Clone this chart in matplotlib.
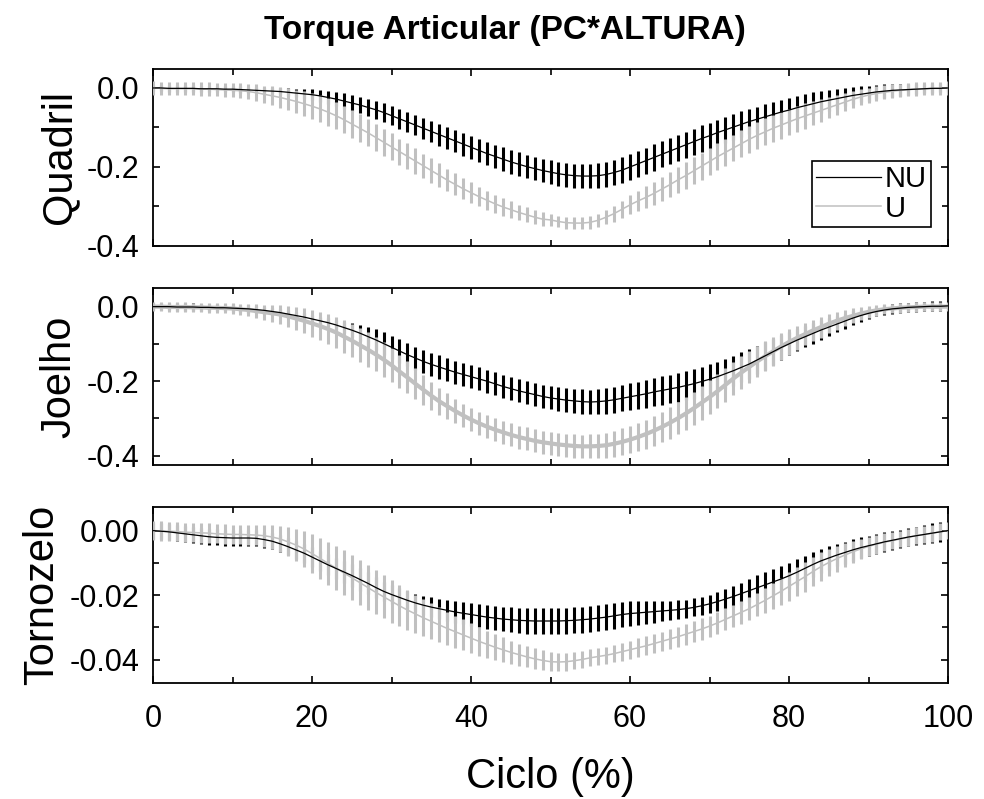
import numpy as np
import matplotlib
matplotlib.use('Agg')
import matplotlib.pyplot as plt
from matplotlib.ticker import MultipleLocator, FormatStrFormatter

plt.rcParams['font.family'] = 'Liberation Sans'
plt.rcParams['axes.unicode_minus'] = False

# Ciclo da marcha (%) - um ponto a cada 1 %
ciclo = np.arange(0, 101)

# Quadril - media e desvio padrao (NU = nao usuarios, U = usuarios)
quadril_nu = [
    0.000, 0.000, -0.001, -0.001, -0.001, -0.001, -0.002, -0.002, -0.002, -0.003,
    -0.003, -0.004, -0.005, -0.006, -0.007, -0.008, -0.009, -0.011, -0.013, -0.015,
    -0.017, -0.020, -0.024, -0.028, -0.033, -0.038, -0.043, -0.049, -0.055, -0.062,
    -0.070, -0.078, -0.086, -0.094, -0.102, -0.110, -0.118, -0.126, -0.134, -0.142,
    -0.150, -0.158, -0.166, -0.173, -0.180, -0.187, -0.193, -0.199, -0.204, -0.209,
    -0.213, -0.217, -0.220, -0.222, -0.223, -0.223, -0.222, -0.219, -0.214, -0.208,
    -0.200, -0.192, -0.184, -0.176, -0.168, -0.160, -0.152, -0.144, -0.136, -0.128,
    -0.121, -0.113, -0.106, -0.099, -0.092, -0.085, -0.079, -0.073, -0.067, -0.061,
    -0.056, -0.050, -0.045, -0.040, -0.035, -0.031, -0.027, -0.023, -0.019, -0.016,
    -0.013, -0.010, -0.008, -0.006, -0.005, -0.004, -0.003, -0.002, -0.001, -0.001,
    0.000]
quadril_nu_dp = [
    0.008, 0.008, 0.008, 0.008, 0.008, 0.008, 0.008, 0.008, 0.008, 0.008,
    0.008, 0.008, 0.008, 0.008, 0.008, 0.008, 0.009, 0.010, 0.011, 0.012,
    0.014, 0.015, 0.016, 0.018, 0.019, 0.020, 0.021, 0.022, 0.023, 0.024,
    0.025, 0.025, 0.026, 0.026, 0.027, 0.027, 0.028, 0.028, 0.028, 0.029,
    0.029, 0.029, 0.029, 0.029, 0.030, 0.030, 0.030, 0.030, 0.030, 0.030,
    0.030, 0.030, 0.030, 0.030, 0.030, 0.031, 0.031, 0.032, 0.032, 0.033,
    0.033, 0.033, 0.033, 0.033, 0.033, 0.033, 0.033, 0.033, 0.033, 0.033,
    0.033, 0.033, 0.033, 0.033, 0.033, 0.032, 0.032, 0.032, 0.032, 0.031,
    0.031, 0.030, 0.030, 0.029, 0.028, 0.027, 0.025, 0.023, 0.021, 0.020,
    0.019, 0.018, 0.017, 0.016, 0.015, 0.014, 0.013, 0.012, 0.011, 0.010,
    0.010]
quadril_u = [
    0.000, -0.001, -0.002, -0.002, -0.002, -0.002, -0.003, -0.003, -0.004, -0.005,
    -0.006, -0.007, -0.009, -0.012, -0.016, -0.020, -0.024, -0.029, -0.034, -0.040,
    -0.046, -0.053, -0.061, -0.070, -0.080, -0.091, -0.102, -0.113, -0.125, -0.137,
    -0.149, -0.161, -0.173, -0.185, -0.197, -0.209, -0.221, -0.233, -0.244, -0.255,
    -0.265, -0.275, -0.284, -0.293, -0.301, -0.308, -0.315, -0.321, -0.327, -0.332,
    -0.334, -0.338, -0.341, -0.342, -0.342, -0.340, -0.335, -0.327, -0.318, -0.307,
    -0.296, -0.286, -0.277, -0.267, -0.256, -0.245, -0.233, -0.222, -0.210, -0.198,
    -0.186, -0.174, -0.163, -0.152, -0.141, -0.130, -0.120, -0.111, -0.102, -0.094,
    -0.086, -0.078, -0.071, -0.064, -0.057, -0.050, -0.043, -0.036, -0.029, -0.023,
    -0.018, -0.014, -0.011, -0.008, -0.006, -0.004, -0.003, -0.002, -0.001, -0.001,
    0.000]
quadril_u_dp = [
    0.017, 0.017, 0.017, 0.017, 0.017, 0.017, 0.017, 0.017, 0.017, 0.017,
    0.018, 0.019, 0.020, 0.021, 0.022, 0.024, 0.026, 0.028, 0.030, 0.032,
    0.033, 0.034, 0.035, 0.035, 0.035, 0.035, 0.035, 0.035, 0.034, 0.034,
    0.034, 0.033, 0.033, 0.032, 0.031, 0.031, 0.030, 0.029, 0.028, 0.027,
    0.026, 0.025, 0.024, 0.023, 0.022, 0.021, 0.020, 0.019, 0.018, 0.017,
    0.016, 0.015, 0.015, 0.015, 0.015, 0.016, 0.017, 0.018, 0.020, 0.022,
    0.024, 0.026, 0.028, 0.030, 0.031, 0.032, 0.033, 0.034, 0.034, 0.034,
    0.034, 0.034, 0.034, 0.034, 0.034, 0.034, 0.034, 0.034, 0.034, 0.034,
    0.034, 0.033, 0.032, 0.031, 0.029, 0.027, 0.025, 0.023, 0.021, 0.020,
    0.019, 0.018, 0.018, 0.017, 0.017, 0.017, 0.017, 0.017, 0.017, 0.017,
    0.017]

# Joelho
joelho_nu = [
    0.000, 0.000, 0.000, -0.001, -0.001, -0.001, -0.002, -0.002, -0.003, -0.003,
    -0.004, -0.005, -0.006, -0.008, -0.010, -0.013, -0.016, -0.020, -0.024, -0.028,
    -0.033, -0.038, -0.043, -0.049, -0.056, -0.063, -0.071, -0.080, -0.089, -0.099,
    -0.109, -0.119, -0.129, -0.138, -0.147, -0.155, -0.162, -0.169, -0.176, -0.182,
    -0.188, -0.194, -0.200, -0.207, -0.214, -0.220, -0.226, -0.231, -0.236, -0.241,
    -0.245, -0.248, -0.251, -0.253, -0.255, -0.256, -0.255, -0.253, -0.250, -0.246,
    -0.242, -0.238, -0.234, -0.229, -0.225, -0.221, -0.217, -0.212, -0.207, -0.201,
    -0.195, -0.188, -0.180, -0.172, -0.163, -0.154, -0.143, -0.132, -0.121, -0.110,
    -0.100, -0.090, -0.081, -0.072, -0.063, -0.055, -0.047, -0.039, -0.031, -0.024,
    -0.018, -0.013, -0.009, -0.006, -0.004, -0.002, -0.001, 0.000, 0.001, 0.001,
    0.002]
joelho_nu_dp = [
    0.010, 0.010, 0.010, 0.010, 0.010, 0.010, 0.010, 0.010, 0.010, 0.010,
    0.010, 0.010, 0.010, 0.010, 0.010, 0.010, 0.010, 0.010, 0.010, 0.010,
    0.010, 0.011, 0.012, 0.014, 0.016, 0.019, 0.022, 0.025, 0.028, 0.030,
    0.031, 0.031, 0.031, 0.031, 0.031, 0.031, 0.031, 0.031, 0.031, 0.031,
    0.031, 0.031, 0.031, 0.031, 0.031, 0.031, 0.031, 0.031, 0.031, 0.031,
    0.031, 0.031, 0.032, 0.032, 0.033, 0.033, 0.034, 0.034, 0.035, 0.035,
    0.036, 0.036, 0.037, 0.037, 0.038, 0.038, 0.039, 0.039, 0.040, 0.040,
    0.040, 0.040, 0.040, 0.040, 0.040, 0.039, 0.038, 0.037, 0.035, 0.033,
    0.031, 0.029, 0.028, 0.027, 0.026, 0.024, 0.022, 0.020, 0.018, 0.016,
    0.014, 0.013, 0.013, 0.013, 0.013, 0.013, 0.013, 0.013, 0.013, 0.013,
    0.013]
joelho_u = [
    0.000, 0.000, -0.001, -0.001, -0.001, -0.002, -0.002, -0.003, -0.003, -0.004,
    -0.005, -0.007, -0.009, -0.012, -0.015, -0.018, -0.021, -0.026, -0.032, -0.038,
    -0.045, -0.052, -0.060, -0.069, -0.080, -0.091, -0.103, -0.115, -0.128, -0.142,
    -0.157, -0.174, -0.190, -0.207, -0.223, -0.239, -0.254, -0.267, -0.280, -0.292,
    -0.303, -0.313, -0.322, -0.330, -0.337, -0.344, -0.350, -0.355, -0.360, -0.364,
    -0.367, -0.370, -0.372, -0.374, -0.375, -0.375, -0.374, -0.372, -0.368, -0.363,
    -0.357, -0.350, -0.342, -0.333, -0.323, -0.312, -0.300, -0.287, -0.273, -0.258,
    -0.243, -0.227, -0.210, -0.193, -0.177, -0.162, -0.147, -0.133, -0.120, -0.107,
    -0.095, -0.084, -0.074, -0.064, -0.055, -0.046, -0.038, -0.031, -0.025, -0.019,
    -0.014, -0.010, -0.007, -0.005, -0.003, -0.002, -0.001, 0.000, 0.000, 0.000,
    0.000]
joelho_u_dp = [
    0.013, 0.013, 0.013, 0.013, 0.013, 0.013, 0.013, 0.013, 0.013, 0.013,
    0.014, 0.015, 0.016, 0.018, 0.020, 0.022, 0.025, 0.028, 0.031, 0.034,
    0.036, 0.038, 0.040, 0.042, 0.044, 0.045, 0.046, 0.046, 0.046, 0.046,
    0.045, 0.044, 0.043, 0.042, 0.040, 0.038, 0.036, 0.034, 0.033, 0.032,
    0.031, 0.031, 0.031, 0.031, 0.031, 0.031, 0.031, 0.031, 0.031, 0.031,
    0.031, 0.031, 0.031, 0.031, 0.031, 0.032, 0.033, 0.034, 0.035, 0.036,
    0.037, 0.038, 0.039, 0.040, 0.041, 0.042, 0.043, 0.044, 0.045, 0.045,
    0.045, 0.045, 0.045, 0.045, 0.045, 0.044, 0.042, 0.040, 0.038, 0.036,
    0.034, 0.032, 0.030, 0.029, 0.028, 0.026, 0.024, 0.022, 0.020, 0.018,
    0.016, 0.015, 0.014, 0.013, 0.013, 0.013, 0.013, 0.013, 0.013, 0.013,
    0.013]

# Tornozelo
tornozelo_nu = [
    0.0000, -0.0002, -0.0004, -0.0007, -0.0010, -0.0013, -0.0016, -0.0019, -0.0021, -0.0022,
    -0.0023, -0.0023, -0.0023, -0.0024, -0.0028, -0.0033, -0.0041, -0.0050, -0.0060, -0.0070,
    -0.0082, -0.0094, -0.0106, -0.0117, -0.0128, -0.0139, -0.0151, -0.0163, -0.0176, -0.0188,
    -0.0198, -0.0207, -0.0216, -0.0224, -0.0231, -0.0237, -0.0242, -0.0247, -0.0252, -0.0256,
    -0.0260, -0.0264, -0.0268, -0.0271, -0.0274, -0.0276, -0.0278, -0.0279, -0.0280, -0.0280,
    -0.0280, -0.0280, -0.0279, -0.0278, -0.0276, -0.0274, -0.0271, -0.0268, -0.0264, -0.0260,
    -0.0257, -0.0255, -0.0253, -0.0251, -0.0249, -0.0247, -0.0245, -0.0242, -0.0238, -0.0233,
    -0.0227, -0.0220, -0.0212, -0.0204, -0.0195, -0.0186, -0.0177, -0.0168, -0.0159, -0.0150,
    -0.0140, -0.0129, -0.0117, -0.0105, -0.0094, -0.0085, -0.0076, -0.0068, -0.0060, -0.0053,
    -0.0047, -0.0041, -0.0035, -0.0030, -0.0025, -0.0020, -0.0016, -0.0012, -0.0008, -0.0004,
    0.0000]
tornozelo_nu_dp = [
    0.0025, 0.0025, 0.0025, 0.0025, 0.0025, 0.0025, 0.0025, 0.0025, 0.0025, 0.0025,
    0.0025, 0.0025, 0.0025, 0.0025, 0.0025, 0.0025, 0.0026, 0.0027, 0.0028, 0.0029,
    0.0030, 0.0031, 0.0032, 0.0033, 0.0034, 0.0035, 0.0035, 0.0034, 0.0032, 0.0030,
    0.0029, 0.0028, 0.0028, 0.0028, 0.0029, 0.0030, 0.0031, 0.0032, 0.0033, 0.0034,
    0.0035, 0.0036, 0.0037, 0.0038, 0.0038, 0.0039, 0.0039, 0.0040, 0.0040, 0.0040,
    0.0040, 0.0040, 0.0040, 0.0040, 0.0040, 0.0040, 0.0040, 0.0040, 0.0040, 0.0040,
    0.0039, 0.0038, 0.0036, 0.0034, 0.0032, 0.0030, 0.0029, 0.0028, 0.0028, 0.0028,
    0.0028, 0.0029, 0.0030, 0.0032, 0.0034, 0.0036, 0.0038, 0.0039, 0.0040, 0.0040,
    0.0040, 0.0040, 0.0039, 0.0038, 0.0037, 0.0036, 0.0035, 0.0034, 0.0033, 0.0032,
    0.0031, 0.0030, 0.0030, 0.0029, 0.0028, 0.0028, 0.0028, 0.0029, 0.0030, 0.0030,
    0.0030]
tornozelo_u = [
    0.0000, -0.0001, -0.0002, -0.0003, -0.0005, -0.0006, -0.0007, -0.0008, -0.0010, -0.0011,
    -0.0012, -0.0012, -0.0013, -0.0014, -0.0016, -0.0020, -0.0026, -0.0035, -0.0045, -0.0057,
    -0.0071, -0.0086, -0.0101, -0.0116, -0.0131, -0.0146, -0.0161, -0.0176, -0.0191, -0.0205,
    -0.0219, -0.0233, -0.0246, -0.0258, -0.0270, -0.0281, -0.0292, -0.0303, -0.0313, -0.0323,
    -0.0333, -0.0343, -0.0352, -0.0361, -0.0369, -0.0377, -0.0384, -0.0391, -0.0397, -0.0402,
    -0.0406, -0.0407, -0.0406, -0.0403, -0.0399, -0.0394, -0.0390, -0.0386, -0.0381, -0.0375,
    -0.0369, -0.0363, -0.0357, -0.0350, -0.0343, -0.0336, -0.0329, -0.0321, -0.0313, -0.0305,
    -0.0296, -0.0286, -0.0275, -0.0264, -0.0253, -0.0242, -0.0229, -0.0216, -0.0202, -0.0188,
    -0.0173, -0.0158, -0.0143, -0.0127, -0.0112, -0.0099, -0.0087, -0.0076, -0.0066, -0.0057,
    -0.0049, -0.0042, -0.0036, -0.0031, -0.0026, -0.0021, -0.0016, -0.0012, -0.0008, -0.0004,
    0.0000]
tornozelo_u_dp = [
    0.0030, 0.0030, 0.0030, 0.0030, 0.0030, 0.0030, 0.0030, 0.0030, 0.0030, 0.0030,
    0.0030, 0.0030, 0.0031, 0.0032, 0.0034, 0.0037, 0.0041, 0.0045, 0.0050, 0.0055,
    0.0060, 0.0064, 0.0067, 0.0069, 0.0070, 0.0070, 0.0070, 0.0069, 0.0068, 0.0067,
    0.0066, 0.0064, 0.0062, 0.0060, 0.0058, 0.0056, 0.0054, 0.0052, 0.0050, 0.0048,
    0.0046, 0.0044, 0.0042, 0.0040, 0.0038, 0.0036, 0.0034, 0.0033, 0.0032, 0.0031,
    0.0030, 0.0029, 0.0028, 0.0027, 0.0026, 0.0026, 0.0026, 0.0027, 0.0027, 0.0028,
    0.0028, 0.0029, 0.0029, 0.0030, 0.0030, 0.0031, 0.0031, 0.0032, 0.0032, 0.0033,
    0.0033, 0.0034, 0.0034, 0.0035, 0.0035, 0.0036, 0.0037, 0.0038, 0.0040, 0.0042,
    0.0044, 0.0045, 0.0046, 0.0046, 0.0045, 0.0043, 0.0040, 0.0037, 0.0034, 0.0032,
    0.0030, 0.0029, 0.0028, 0.0027, 0.0026, 0.0026, 0.0026, 0.0026, 0.0026, 0.0026,
    0.0026]

cinza = '#c0c0c0'

fig = plt.figure(figsize=(9.84, 7.99), dpi=100)
W, H = 984.0, 799.0

# (nu, dp nu, u, dp u, rotulo, limites y, passo maior, passo menor, formato, espessura linha U, topo px, base px)
paineis = [
    (quadril_nu, quadril_nu_dp, quadril_u, quadril_u_dp, 'Quadril',
     (-0.4, 0.048), 0.2, 0.1, '%.1f', 1.1, 69, 246),
    (joelho_nu, joelho_nu_dp, joelho_u, joelho_u_dp, 'Joelho',
     (-0.425, 0.05), 0.2, 0.1, '%.1f', 3.0, 288, 465),
    (tornozelo_nu, tornozelo_nu_dp, tornozelo_u, tornozelo_u_dp, 'Tornozelo',
     (-0.0472, 0.0073), 0.02, 0.01, '%.2f', 1.1, 507, 683),
]

eixos = []
for nu, nu_dp, u, u_dp, rotulo, ylim, maior, menor, fmt, lw_u, topo, base in paineis:
    ax = fig.add_axes([153 / W, 1 - base / H, 795 / W, (base - topo) / H])
    ax.errorbar(ciclo, nu, yerr=nu_dp, fmt='none', ecolor='black',
                elinewidth=2.2, capsize=0, zorder=2)
    ax.errorbar(ciclo, u, yerr=u_dp, fmt='none', ecolor=cinza,
                elinewidth=2.2, capsize=0, zorder=3)
    l_u, = ax.plot(ciclo, u, color=cinza, lw=lw_u, zorder=4, label='U')
    l_nu, = ax.plot(ciclo, nu, color='black', lw=0.9, zorder=5, label='NU')

    ax.set_xlim(0, 100)
    ax.set_ylim(*ylim)
    ax.xaxis.set_major_locator(MultipleLocator(20))
    ax.xaxis.set_minor_locator(MultipleLocator(10))
    ax.yaxis.set_major_locator(MultipleLocator(maior))
    ax.yaxis.set_minor_locator(MultipleLocator(menor))
    ax.yaxis.set_major_formatter(FormatStrFormatter(fmt))
    ax.tick_params(which='both', direction='in', top=True, right=True, width=1.2)
    ax.tick_params(which='major', length=5)
    ax.tick_params(which='minor', length=4)
    ax.tick_params(axis='y', labelsize=22, pad=10)
    ax.tick_params(axis='x', labelsize=22, pad=15)
    for s in ax.spines.values():
        s.set_linewidth(1.3)
    ax.set_ylabel(rotulo, fontsize=30, labelpad=5)
    eixos.append(ax)

    if rotulo == 'Quadril':
        leg = ax.legend([l_nu, l_u], ['NU', 'U'], loc='lower right',
                        bbox_to_anchor=(0.979, 0.107), fontsize=21,
                        frameon=True, fancybox=False, framealpha=1,
                        edgecolor='black', handlelength=2.2, handletextpad=0.15,
                        labelspacing=0.05, borderpad=0.15, borderaxespad=0)
        leg.get_frame().set_linewidth(1.2)

for ax in eixos[:-1]:
    ax.tick_params(axis='x', labelbottom=False)

eixos[-1].set_xlabel('Ciclo (%)', fontsize=30, labelpad=17)

fig.text(0.513, 1 - 39 / H, 'Torque Articular (PC*ALTURA)', ha='center',
         va='baseline', fontsize=24, fontweight='bold')

fig.savefig('out.png', dpi=100)
